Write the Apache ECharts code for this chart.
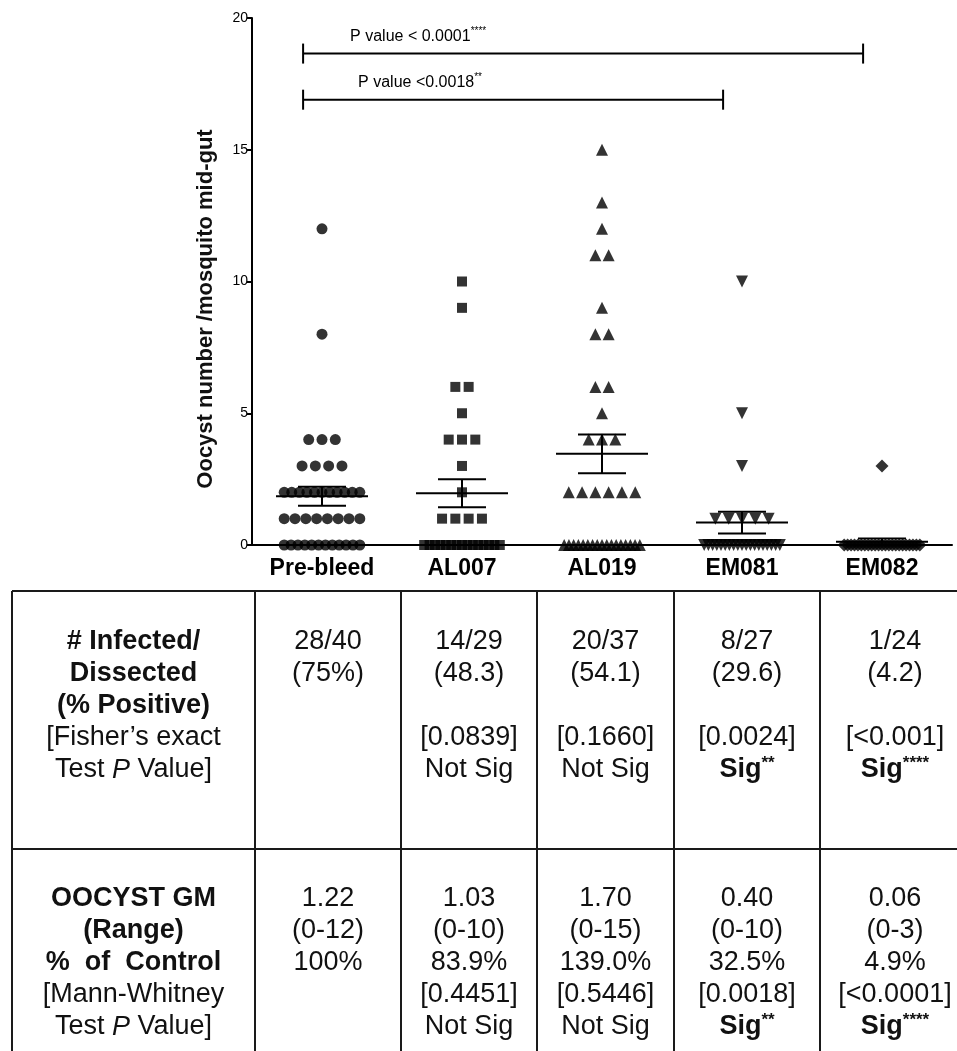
<!DOCTYPE html>
<html><head><meta charset="utf-8">
<script src="https://cdn.jsdelivr.net/npm/echarts@6/dist/echarts.min.js"></script>
<style>html,body{margin:0;padding:0;background:#fff}#c{width:957px;height:1051px}</style>
</head><body><div id="c"></div>
<script>
// ---------------- DATA ----------------
const categories = ['Pre-bleed', 'AL007', 'AL019', 'EM081', 'EM082'];
const preBleed = [12, 8, 4, 4, 4, 3, 3, 3, 3, 2, 2, 2, 2, 2, 2, 2, 2, 2, 2, 2, 1, 1, 1, 1, 1, 1, 1, 1, 0, 0, 0, 0, 0, 0, 0, 0, 0, 0, 0, 0];
const al007 = [10, 9, 6, 6, 5, 4, 4, 4, 3, 2, 1, 1, 1, 1, 0, 0, 0, 0, 0, 0, 0, 0, 0, 0, 0, 0, 0, 0, 0];
const al019 = [15, 13, 12, 11, 11, 9, 8, 8, 6, 6, 5, 4, 4, 4, 2, 2, 2, 2, 2, 2, 0, 0, 0, 0, 0, 0, 0, 0, 0, 0, 0, 0, 0, 0, 0, 0, 0];
const em081 = [10, 5, 3, 1, 1, 1, 1, 1, 0, 0, 0, 0, 0, 0, 0, 0, 0, 0, 0, 0, 0, 0, 0, 0, 0, 0, 0];
const em082 = [3, 0, 0, 0, 0, 0, 0, 0, 0, 0, 0, 0, 0, 0, 0, 0, 0, 0, 0, 0, 0, 0, 0, 0];
const yTicks = [0, 5, 10, 15, 20];
const yAxisTitle = 'Oocyst number /mosquito mid-gut';

const bracketFrom = ['Pre-bleed', 'Pre-bleed'];
const bracketTo = ['EM082', 'EM081'];
const bracketLabels = ['P value < 0.0001', 'P value <0.0018'];
const bracketStars = ['****', '**'];

// table
const infectedRatio = ['28/40', '14/29', '20/37', '8/27', '1/24'];
const percentPositive = ['(75%)', '(48.3)', '(54.1)', '(29.6)', '(4.2)'];
const fisherP = ['', '[0.0839]', '[0.1660]', '[0.0024]', '[<0.001]'];
const fisherSig = ['', 'Not Sig', 'Not Sig', 'Sig', 'Sig'];
const fisherStars = ['', '', '', '**', '****'];
const oocystGM = ['1.22', '1.03', '1.70', '0.40', '0.06'];
const oocystRange = ['(0-12)', '(0-10)', '(0-15)', '(0-10)', '(0-3)'];
const percentControl = ['100%', '83.9%', '139.0%', '32.5%', '4.9%'];
const mannP = ['', '[0.4451]', '[0.5446]', '[0.0018]', '[<0.0001]'];
const mannSig = ['', 'Not Sig', 'Not Sig', 'Sig', 'Sig'];
const mannStars = ['', '', '', '**', '****'];
const header1Bold = ['# Infected/', 'Dissected', '(% Positive)'];
const header1Reg = ['[Fisher’s exact', 'Test |P| Value]'];
const header2Bold = ['OOCYST GM', '(Range)', '%  of  Control'];
const header2Reg = ['[Mann-Whitney', 'Test |P| Value]'];

// ---------------- LAYOUT ----------------
const FONT = '"Liberation Sans", Arial, Helvetica, sans-serif';
const groups = [preBleed, al007, al019, em081, em082];
const symbols = ['circle', 'rect', 'triangle', 'triangle', 'diamond'];
const symRot = [0, 0, 0, 180, 0];
const symSize = [11, 10, 12, 12, 13];

function spread(vals, gi) {
  const counts = {};
  vals.forEach(v => counts[v] = (counts[v] || 0) + 1);
  const out = [];
  Object.keys(counts).forEach(k => {
    const n = counts[k];
    const sp = n > 1 ? Math.min(0.095, 0.54 / (n - 1)) : 0;
    for (let i = 0; i < n; i++) out.push([gi + (i - (n - 1) / 2) * sp, +k]);
  });
  return out;
}
function stats(vals) {
  const n = vals.length;
  const m = vals.reduce((a, b) => a + b, 0) / n;
  const v = vals.reduce((a, b) => a + (b - m) * (b - m), 0) / (n - 1);
  const se = Math.sqrt(v) / Math.sqrt(n);
  return [m, m - se, m + se];
}

const series = [];
groups.forEach((g, gi) => {
  series.push({
    type: 'scatter', xAxisIndex: 1, yAxisIndex: 0,
    symbol: symbols[gi], symbolRotate: symRot[gi], symbolSize: symSize[gi],
    itemStyle: { color: '#000' }, silent: true,
    data: spread(g, gi)
  });
});
series.push({
  type: 'custom', xAxisIndex: 1, yAxisIndex: 0, silent: true, z: 5,
  data: groups.map((g, gi) => [gi].concat(stats(g))),
  renderItem: function (params, api) {
    const x = api.value(0);
    const pm = api.coord([x, api.value(1)]), pl = api.coord([x, api.value(2)]), ph = api.coord([x, api.value(3)]);
    const st = { stroke: '#000', lineWidth: 2 };
    return { type: 'group', children: [
      { type: 'line', shape: { x1: pm[0] - 46, y1: pm[1], x2: pm[0] + 46, y2: pm[1] }, style: st },
      { type: 'line', shape: { x1: pl[0], y1: pl[1], x2: ph[0], y2: ph[1] }, style: st },
      { type: 'line', shape: { x1: pl[0] - 24, y1: pl[1], x2: pl[0] + 24, y2: pl[1] }, style: st },
      { type: 'line', shape: { x1: ph[0] - 24, y1: ph[1], x2: ph[0] + 24, y2: ph[1] }, style: st }
    ]};
  }
});
const bracketLevel = [18.65, 16.9];
series.push({
  type: 'custom', xAxisIndex: 1, yAxisIndex: 0, silent: true,
  data: bracketFrom.map((f, i) => [categories.indexOf(f), categories.indexOf(bracketTo[i]), bracketLevel[i], i]),
  renderItem: function (params, api) {
    const i = api.value(3);
    const p1 = api.coord([api.value(0) - 0.135, api.value(2)]);
    const p2 = api.coord([api.value(1) - 0.135, api.value(2)]);
    const st = { stroke: '#000', lineWidth: 2 };
    return { type: 'group', children: [
      { type: 'line', shape: { x1: p1[0], y1: p1[1], x2: p2[0], y2: p2[1] }, style: st },
      { type: 'line', shape: { x1: p1[0], y1: p1[1] - 10, x2: p1[0], y2: p1[1] + 10 }, style: st },
      { type: 'line', shape: { x1: p2[0], y1: p2[1] - 10, x2: p2[0], y2: p2[1] + 10 }, style: st },
      { type: 'text', style: {
          x: p1[0] + (i === 0 ? 47 : 55), y: p1[1] - 17,
          text: '{t|' + bracketLabels[i] + '}{s|' + bracketStars[i] + '}',
          align: 'left', verticalAlign: 'middle',
          rich: {
            t: { fontSize: 16, fontFamily: FONT, fill: '#000', lineHeight: 20 },
            s: { fontSize: 10, fontFamily: FONT, fill: '#000', lineHeight: 20, verticalAlign: 'top' }
          }
        } }
    ]};
  }
});

// ---------------- TABLE (graphic) ----------------
const graphic = [];
const colX = [12, 255, 401, 537, 674, 820, 970];
const tTop = 591, tMid = 849, tBot = 1060;
const lineStyle = { stroke: '#1a1a1a', lineWidth: 2 };
colX.forEach(x => graphic.push({ type: 'line', shape: { x1: x, y1: tTop, x2: x, y2: tBot }, style: lineStyle }));
[tTop, tMid].forEach(y => graphic.push({ type: 'line', shape: { x1: colX[0], y1: y, x2: colX[6], y2: y }, style: lineStyle }));

const TS = 27;
const rich = {
  r: { fontSize: TS, fontFamily: FONT, fill: '#111' },
  b: { fontSize: TS, fontFamily: FONT, fill: '#111', fontWeight: 'bold' },
  i: { fontSize: TS, fontFamily: FONT, fill: '#111', fontStyle: 'italic' },
  sb: { fontSize: 17, fontFamily: FONT, fill: '#111', fontWeight: 'bold', verticalAlign: 'top', lineHeight: 30 }
};
function addText(x, y, txt) {
  if (!txt) return;
  graphic.push({ type: 'text', x: x, y: y, silent: true,
    style: { text: txt, align: 'center', verticalAlign: 'middle', rich: rich, fontSize: TS, fontFamily: FONT, fill: '#111' } });
}
function regTxt(s) {
  const parts = s.split('|');
  if (parts.length === 3) return '{r|' + parts[0] + '}{i|' + parts[1] + '}{r|' + parts[2] + '}';
  return '{r|' + s + '}';
}
function sigTxt(sig, stars) {
  if (!sig) return '';
  if (stars) return '{b|' + sig + '}{sb|' + stars + '}';
  return '{r|' + sig + '}';
}
const LH = 32;
const row1Y = 642, row2Y = 899;
const c0 = (colX[0] + colX[1]) / 2;
header1Bold.forEach((t, k) => addText(c0, row1Y + k * LH, '{b|' + t + '}'));
header1Reg.forEach((t, k) => addText(c0, row1Y + (k + 3) * LH, regTxt(t)));
header2Bold.forEach((t, k) => addText(c0, row2Y + k * LH, '{b|' + t + '}'));
header2Reg.forEach((t, k) => addText(c0, row2Y + (k + 3) * LH, regTxt(t)));
categories.forEach((c, j) => {
  const cx = (colX[j + 1] + colX[j + 2]) / 2;
  addText(cx, row1Y, '{r|' + infectedRatio[j] + '}');
  addText(cx, row1Y + LH, '{r|' + percentPositive[j] + '}');
  addText(cx, row1Y + 3 * LH, fisherP[j] ? '{r|' + fisherP[j] + '}' : '');
  addText(cx, row1Y + 4 * LH, sigTxt(fisherSig[j], fisherStars[j]));
  addText(cx, row2Y, '{r|' + oocystGM[j] + '}');
  addText(cx, row2Y + LH, '{r|' + oocystRange[j] + '}');
  addText(cx, row2Y + 2 * LH, '{r|' + percentControl[j] + '}');
  addText(cx, row2Y + 3 * LH, mannP[j] ? '{r|' + mannP[j] + '}' : '');
  addText(cx, row2Y + 4 * LH, sigTxt(mannSig[j], mannStars[j]));
});
// y-axis title
graphic.push({ type: 'text', x: 206, y: 309, rotation: Math.PI / 2, silent: true,
  style: { text: yAxisTitle, align: 'center', verticalAlign: 'middle', fontSize: 22, fontWeight: 'bold', fontFamily: FONT, fill: '#111' } });

const option = {
  animation: false,
  backgroundColor: '#fff',
  grid: { left: 252, right: 5, top: 18, bottom: 506, containLabel: false },
  xAxis: [
    { type: 'category', data: categories, boundaryGap: true,
      axisLine: { onZero: false, lineStyle: { color: '#000', width: 2 } },
      axisTick: { alignWithLabel: true, length: 5, lineStyle: { color: '#000', width: 2 } },
      axisLabel: { color: '#000', fontSize: 23, fontWeight: 'bold', fontFamily: FONT, margin: 12 },
      splitLine: { show: false } },
    { type: 'value', min: -0.5, max: 4.5, show: false }
  ],
  yAxis: { type: 'value', min: yTicks[0], max: yTicks[yTicks.length - 1], interval: 5,
    axisLine: { show: true, onZero: false, lineStyle: { color: '#000', width: 2 } },
    axisTick: { show: true, length: 5, lineStyle: { color: '#000', width: 2 } },
    axisLabel: { color: '#000', fontSize: 14, fontFamily: FONT, margin: 4 },
    splitLine: { show: false } },
  series: series,
  graphic: graphic
};
const chart = echarts.init(document.getElementById('c'), null, { renderer: 'canvas' });
chart.setOption(option);
</script></body></html>
